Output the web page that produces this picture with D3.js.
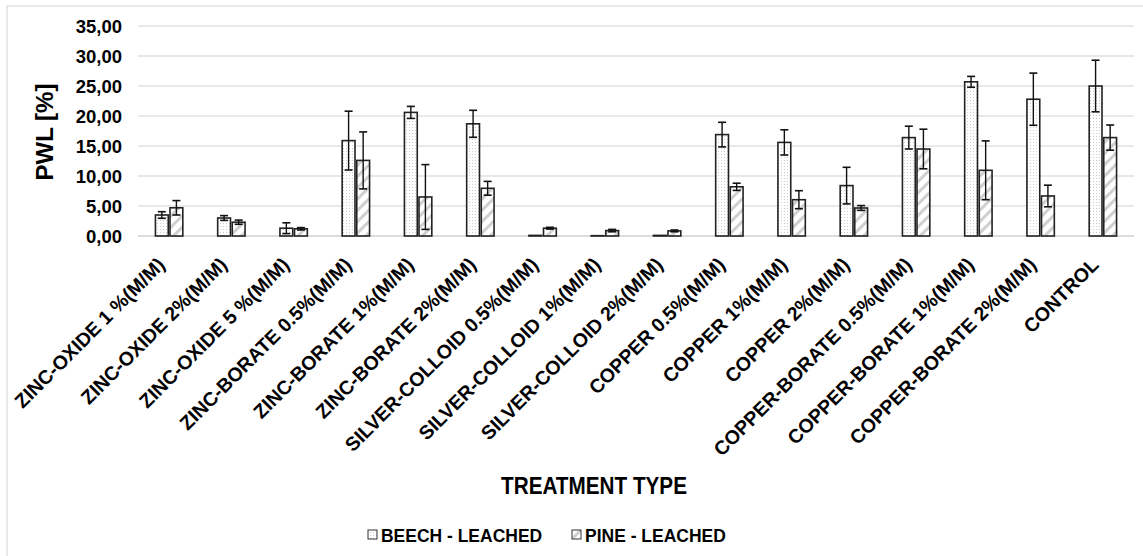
<!DOCTYPE html>
<html><head><meta charset="utf-8">
<script src="https://cdn.jsdelivr.net/npm/d3@7"></script>
<style>
body{margin:0;background:#fff;}
text{font-family:"Liberation Sans",Arial,sans-serif;font-weight:bold;fill:#000;}
</style></head>
<body><svg id="c" width="1143" height="556"></svg>
<script>
const categories = ["ZINC-OXIDE 1 %(M/M)","ZINC-OXIDE 2%(M/M)","ZINC-OXIDE 5 %(M/M)","ZINC-BORATE 0.5%(M/M)","ZINC-BORATE 1%(M/M)","ZINC-BORATE 2%(M/M)","SILVER-COLLOID 0.5%(M/M)","SILVER-COLLOID 1%(M/M)","SILVER-COLLOID 2%(M/M)","COPPER 0.5%(M/M)","COPPER 1%(M/M)","COPPER 2%(M/M)","COPPER-BORATE 0.5%(M/M)","COPPER-BORATE 1%(M/M)","COPPER-BORATE 2%(M/M)","CONTROL"];
const beech = [3.5,3.0,1.3,15.9,20.6,18.7,0.1,0.05,0.1,16.9,15.6,8.4,16.4,25.7,22.8,25.0];
const beechErr = [0.55,0.4,0.9,4.9,1.0,2.25,0,0,0,2.05,2.1,3.05,1.9,0.9,4.35,4.3];
const pine = [4.7,2.3,1.2,12.6,6.5,7.95,1.3,0.9,0.85,8.2,6.05,4.67,14.5,10.95,6.67,16.4];
const pineErr = [1.2,0.35,0.2,4.75,5.4,1.15,0.15,0.2,0.15,0.6,1.5,0.4,3.3,4.9,1.8,2.1];
const seriesNames = ["BEECH - LEACHED","PINE - LEACHED"];
const yTicks = [0,5,10,15,20,25,30,35];

const svg = d3.select("#c");
const defs = svg.append("defs");
const dots = defs.append("pattern").attr("id","dots").attr("patternUnits","userSpaceOnUse").attr("width",3).attr("height",3);
dots.append("rect").attr("width",3).attr("height",3).attr("fill","#fff");
dots.append("rect").attr("x",1).attr("y",1).attr("width",1).attr("height",1).attr("fill","#ccc");
const hatch = defs.append("pattern").attr("id","hatch").attr("patternUnits","userSpaceOnUse").attr("width",8).attr("height",8).attr("patternTransform","rotate(45)");
hatch.append("rect").attr("width",8).attr("height",8).attr("fill","#fff");
hatch.append("rect").attr("x",0).attr("y",0).attr("width",3).attr("height",8).attr("fill","#d0d0d0");

// outer frame
svg.append("rect").attr("x",7).attr("y",6).attr("width",1150).attr("height",560).attr("fill","none").attr("stroke","#e3e3e3").attr("stroke-width",1.5);

const m = {l:138, r:1134, t:26, b:236};
const x = d3.scaleBand().domain(categories).range([m.l, m.r]).paddingInner(0.56).paddingOuter(0.28);
const x1 = d3.scaleBand().domain([0,1]).range([0, x.bandwidth()]).paddingInner(0.12);
const y = d3.scaleLinear().domain([0,35]).range([m.b, m.t]);

// grid
svg.append("g").selectAll("line").data(yTicks).join("line")
  .attr("x1",m.l).attr("x2",m.r).attr("y1",d=>y(d)).attr("y2",d=>y(d))
  .attr("stroke",d=>d===0?"#d0d0d0":"#e0e0e0").attr("stroke-width",1.3);

// y labels
svg.append("g").selectAll("text").data(yTicks).join("text")
  .attr("x",122).attr("y",d=>y(d)+6.5).attr("text-anchor","end").attr("font-size",18.5)
  .text(d=>d3.format(".2f")(d).replace(".",","));

svg.append("text").attr("transform",`translate(53,${(m.t+m.b)/2+1}) rotate(-90)`).attr("text-anchor","middle").attr("font-size",24).text("PWL [%]");

const series = [{v:beech,e:beechErr,fill:"url(#dots)"},{v:pine,e:pineErr,fill:"url(#hatch)"}];
series.forEach((s,si)=>{
  const g = svg.append("g");
  g.selectAll("rect").data(categories).join("rect")
    .attr("x",c=>x(c)+x1(si)).attr("width",x1.bandwidth())
    .attr("y",(c,i)=>y(s.v[i])).attr("height",(c,i)=>y(0)-y(s.v[i]))
    .attr("fill",s.fill).attr("stroke","#222").attr("stroke-width",1.6);
  categories.forEach((c,i)=>{
    if(!s.e[i]) return;
    const cx = x(c)+x1(si)+x1.bandwidth()/2;
    const y0 = y(s.v[i]+s.e[i]), y1 = y(Math.max(0,s.v[i]-s.e[i]));
    g.append("line").attr("x1",cx).attr("x2",cx).attr("y1",y0).attr("y2",y1).attr("stroke","#111").attr("stroke-width",1.4);
    [y0,y1].forEach(yy=>g.append("line").attr("x1",cx-4).attr("x2",cx+4).attr("y1",yy).attr("y2",yy).attr("stroke","#111").attr("stroke-width",1.6));
  });
});

// x labels
svg.append("g").selectAll("text").data(categories).join("text")
  .attr("transform",c=>`translate(${x(c)+x.bandwidth()/2-3},${y(0)+30}) rotate(-45)`)
  .attr("text-anchor","end").attr("font-size",19.5).text(c=>c);

svg.append("text").attr("transform","translate(594,494) scale(0.9,1)").attr("text-anchor","middle").attr("font-size",23).text("TREATMENT TYPE");

// legend
const leg = [{x:368,name:seriesNames[0],fill:"url(#dots)"},{x:572,name:seriesNames[1],fill:"url(#hatch)"}];
leg.forEach(l=>{
  svg.append("rect").attr("x",l.x).attr("y",530).attr("width",9).attr("height",9).attr("fill",l.fill).attr("stroke","#333").attr("stroke-width",1);
  svg.append("text").attr("transform",`translate(${l.x+13},542) scale(0.92,1)`).attr("font-size",19).text(l.name);
});
</script></body></html>
